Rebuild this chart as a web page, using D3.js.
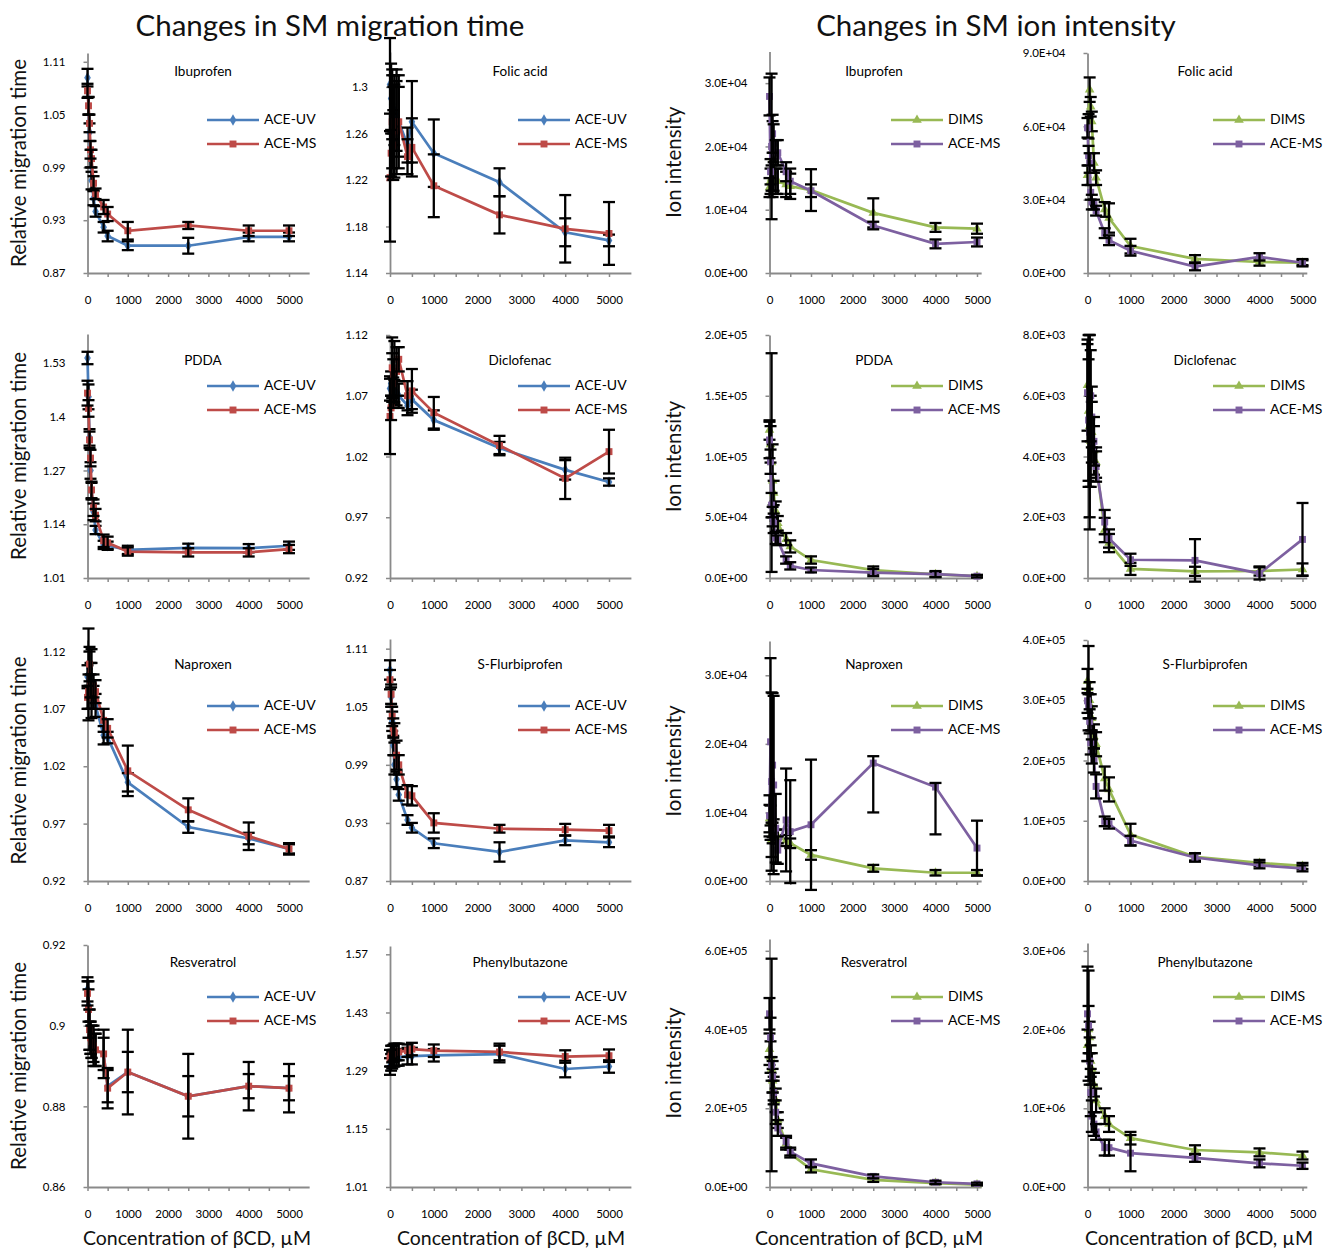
<!DOCTYPE html>
<html>
<head>
<meta charset="utf-8">
<script src="https://cdn.jsdelivr.net/npm/d3@7"></script>
<style>
  body { margin: 0; background: #fff; }
  text { font-family: Lato, 'Open Sans', sans-serif; }
</style>
</head>
<body>
<div id="root"></div>
<script>
// concentration of bCD (uM), shared by every panel
const conc = [0, 25, 50, 75, 100, 150, 200, 400, 500, 1000, 2500, 4000, 5000]
const xTicks = [0, 1000, 2000, 3000, 4000, 5000]

// --- migration time (ACE-UV / ACE-MS) ---
const ibuMigUV = [1.092, 1.06, 1.03, 1.0, 0.975, 0.955, 0.94, 0.922, 0.912, 0.901, 0.901, 0.911, 0.911]
const ibuMigUVErr = [0.01, 0.01, 0.01, 0.01, 0.01, 0.008, 0.006, 0.006, 0.006, 0.005, 0.009, 0.005, 0.005]
const ibuMigMS = [1.077, 1.06, 1.04, 1.01, 1.0, 0.972, 0.96, 0.945, 0.937, 0.918, 0.924, 0.918, 0.918]
const ibuMigMSErr = [0.008, 0.01, 0.01, 0.01, 0.01, 0.008, 0.006, 0.008, 0.008, 0.01, 0.004, 0.006, 0.006]

const folMigUV = [1.302, 1.29, 1.285, 1.28, 1.28, 1.275, 1.27, 1.25, 1.27, 1.243, 1.218, 1.175, 1.168]
const folMigUVErr = [0.04, 0.03, 0.03, 0.02, 0.03, 0.03, 0.03, 0.015, 0.035, 0.029, 0.012, 0.012, 0.005]
const folMigMS = [1.222, 1.243, 1.27, 1.25, 1.262, 1.27, 1.27, 1.24, 1.248, 1.215, 1.19, 1.178, 1.174]
const folMigMSErr = [0.055, 0.02, 0.04, 0.03, 0.04, 0.045, 0.04, 0.015, 0.025, 0.027, 0.016, 0.029, 0.027]

const pddaMigUV = [1.542, 1.448, 1.35, 1.27, 1.22, 1.17, 1.126, 1.09, 1.088, 1.078, 1.083, 1.082, 1.088]
const pddaMigUVErr = [0.015, 0.03, 0.02, 0.02, 0.02, 0.02, 0.01, 0.01, 0.01, 0.01, 0.01, 0.01, 0.01]
const pddaMigMS = [1.457, 1.42, 1.344, 1.3, 1.223, 1.18, 1.162, 1.1, 1.095, 1.074, 1.072, 1.072, 1.08]
const pddaMigMSErr = [0.03, 0.02, 0.02, 0.02, 0.02, 0.02, 0.015, 0.015, 0.015, 0.01, 0.01, 0.01, 0.01]

const dicMigUV = [1.076, 1.08, 1.085, 1.075, 1.073, 1.072, 1.07, 1.062, 1.067, 1.05, 1.027, 1.009, 0.999]
const dicMigUVErr = [0.01, 0.01, 0.02, 0.01, 0.01, 0.01, 0.01, 0.008, 0.008, 0.008, 0.005, 0.008, 0.003]
const dicMigMS = [1.053, 1.06, 1.093, 1.08, 1.09, 1.09, 1.1, 1.07, 1.074, 1.056, 1.029, 1.002, 1.024]
const dicMigMSErr = [0.031, 0.01, 0.025, 0.02, 0.025, 0.02, 0.01, 0.012, 0.018, 0.013, 0.008, 0.017, 0.018]

const napMigUV = [1.098, 1.1, 1.105, 1.1, 1.09, 1.08, 1.073, 1.047, 1.045, 1.006, 0.967, 0.957, 0.948]
const napMigUVErr = [0.01, 0.04, 0.015, 0.01, 0.02, 0.01, 0.01, 0.008, 0.005, 0.008, 0.005, 0.005, 0.004]
const napMigMS = [1.08, 1.085, 1.109, 1.09, 1.092, 1.09, 1.085, 1.06, 1.053, 1.016, 0.982, 0.959, 0.948]
const napMigMSErr = [0.01, 0.015, 0.015, 0.01, 0.03, 0.01, 0.01, 0.01, 0.008, 0.022, 0.01, 0.012, 0.005]

const flurMigUV = [1.088, 1.06, 1.035, 1.01, 0.99, 0.975, 0.959, 0.933, 0.925, 0.909, 0.9, 0.912, 0.91]
const flurMigUVErr = [0.01, 0.01, 0.01, 0.01, 0.01, 0.008, 0.006, 0.005, 0.005, 0.005, 0.01, 0.005, 0.005]
const flurMigMS = [1.078, 1.063, 1.04, 1.028, 1.023, 1.0, 0.99, 0.959, 0.958, 0.93, 0.924, 0.923, 0.922]
const flurMigMSErr = [0.01, 0.01, 0.01, 0.01, 0.01, 0.015, 0.01, 0.01, 0.01, 0.01, 0.004, 0.006, 0.006]

const resMigUV = [0.909, 0.905, 0.899, 0.897, 0.896, 0.895, 0.894, 0.893, 0.885, 0.8885, 0.8825, 0.885, 0.8845]
const resMigUVErr = [0.003, 0.004, 0.005, 0.004, 0.004, 0.004, 0.004, 0.004, 0.004, 0.005, 0.005, 0.003, 0.003]
const resMigMS = [0.908, 0.904, 0.899, 0.897, 0.896, 0.895, 0.894, 0.893, 0.8845, 0.8885, 0.8825, 0.885, 0.8845]
const resMigMSErr = [0.003, 0.007, 0.005, 0.004, 0.004, 0.005, 0.004, 0.006, 0.005, 0.0105, 0.0105, 0.006, 0.006]

const phenMigUV = [1.3, 1.31, 1.315, 1.32, 1.32, 1.322, 1.322, 1.325, 1.325, 1.327, 1.33, 1.294, 1.3]
const phenMigUVErr = [0.02, 0.02, 0.02, 0.02, 0.02, 0.02, 0.02, 0.02, 0.02, 0.015, 0.02, 0.02, 0.015]
const phenMigMS = [1.32, 1.325, 1.33, 1.332, 1.335, 1.335, 1.335, 1.338, 1.342, 1.338, 1.335, 1.324, 1.326]
const phenMigMSErr = [0.02, 0.025, 0.02, 0.02, 0.02, 0.02, 0.02, 0.015, 0.015, 0.015, 0.02, 0.015, 0.015]

// --- ion intensity (DIMS / ACE-MS) ---
const ibuIonDIMS = [13500, 14500, 15000, 18000, 16000, 14500, 14500, 14000, 13700, 13100, 9500, 7200, 7000]
const ibuIonDIMSErr = [1500, 2000, 2000, 6000, 3000, 2000, 2000, 2000, 2000, 3300, 2300, 700, 800]
const ibuIonMS = [27900, 16000, 20000, 22000, 20500, 19000, 19000, 16000, 14500, 13000, 7500, 4600, 4900]
const ibuIonMSErr = [3000, 2000, 11500, 3000, 3000, 2000, 2000, 1500, 2000, 1000, 600, 700, 700]

const folIonDIMS = [40000, 60000, 75000, 68000, 62000, 45000, 39000, 26000, 22500, 11000, 5800, 4500, 4200]
const folIonDIMSErr = [4000, 5000, 5000, 4000, 4000, 4000, 3000, 3000, 6000, 3000, 1500, 1500, 1000]
const folIonMS = [59400, 48000, 45000, 33000, 29000, 28000, 25500, 16300, 13400, 9100, 2600, 6600, 4200]
const folIonMSErr = [4000, 4000, 4000, 3000, 3000, 2000, 2000, 2000, 2000, 2000, 1500, 1500, 1500]

const pddaIonDIMS = [121800, 110000, 95000, 80000, 70000, 55000, 45000, 32000, 26000, 14800, 6500, 3000, 1500]
const pddaIonDIMSErr = [8000, 15000, 90000, 30000, 10000, 8000, 6000, 5000, 5000, 3000, 3000, 2000, 1000]
const pddaIonMS = [113600, 95700, 60000, 50500, 45000, 33000, 31000, 14800, 10000, 6600, 4500, 3200, 1500]
const pddaIonMSErr = [15000, 10000, 10000, 8000, 8000, 5000, 4000, 3000, 3000, 2000, 3000, 2500, 1000]

const dicIonDIMS = [6350, 5500, 5000, 4500, 4800, 4200, 3800, 1580, 1150, 300, 220, 230, 280]
const dicIonDIMSErr = [1500, 2500, 3000, 1500, 1000, 800, 500, 400, 300, 200, 150, 150, 200]
const dicIonMS = [6100, 5200, 4800, 6000, 5300, 4500, 3670, 1840, 1300, 600, 580, 150, 1270]
const dicIonMSErr = [1600, 2000, 3200, 1500, 1000, 800, 500, 400, 300, 200, 700, 200, 1200]

const napIonDIMS = [9100, 8500, 6000, 7000, 7500, 6500, 6500, 5900, 5500, 3800, 1850, 1200, 1200]
const napIonDIMSErr = [2000, 2500, 2500, 1500, 1500, 1000, 1000, 800, 700, 700, 500, 400, 400]
const napIonMS = [9500, 20300, 14500, 16900, 14000, 7700, 4500, 8900, 7200, 8200, 17200, 13700, 4800]
// [minus, plus] where the bar is lopsided
const napIonMSErr = [3000, 12200, 13000, 10500, 13000, 5000, 2000, 7500, 7500, 9500, [7200, 1000], [6900, 600], 4000]

const flurIonDIMS = [332000, 320000, 300000, 290000, 270000, 240000, 227000, 170000, 152000, 77000, 40000, 30000, 25000]
const flurIonDIMSErr = [20000, 70000, 30000, 20000, 20000, 20000, 20000, 20000, 20000, 18000, 6000, 5000, 5000]
const flurIonMS = [299000, 290000, 265000, 230000, 215000, 200000, 157000, 99000, 95000, 67000, 39000, 26000, 21000]
const flurIonMSErr = [20000, 20000, 20000, 20000, 20000, 20000, 20000, 8000, 8000, 8000, 7000, 5000, 5000]

const resIonDIMS = [350000, 330000, 300000, 270000, 250000, 220000, 170000, 110000, 85000, 45000, 18000, 10000, 6000]
const resIonDIMSErr = [40000, 40000, 30000, 30000, 30000, 30000, 20000, 15000, 10000, 8000, 5000, 3000, 2000]
const resIonMS = [440000, 380000, 310000, 280000, 240000, 190000, 150000, 115000, 90000, 60000, 27000, 12000, 8000]
const resIonMSErr = [40000, 50000, 270000, 40000, 30000, 30000, 20000, 15000, 10000, 10000, 5000, 4000, 3000]

const phenIonDIMS = [1800000, 2000000, 1900000, 1600000, 1500000, 1300000, 1100000, 900000, 800000, 620000, 470000, 440000, 400000]
const phenIonDIMSErr = [200000, 300000, 200000, 200000, 200000, 150000, 150000, 100000, 100000, 80000, 60000, 50000, 50000]
const phenIonMS = [2200000, 2050000, 1600000, 1200000, 900000, 800000, 700000, 500000, 500000, 430000, 370000, 300000, 270000]
const phenIonMSErr = [600000, 700000, 300000, 300000, 200000, 150000, 100000, 100000, 100000, 230000, 50000, 50000, 40000]

// layout
const width = 1328
const height = 1250
const rows = [
  { base: 273, titleY: 73, legY: 120 },
  { base: 578, titleY: 362, legY: 386 },
  { base: 881, titleY: 666, legY: 706 },
  { base: 1187, titleY: 964, legY: 997 },
]
const cols = [
  { x0: 87.5, x5000: 289, xMax: 5500, titleX: 203, legX: 207, axTitleX: 197, ion: false },
  { x0: 390, x5000: 609, xMax: 5500, titleX: 520, legX: 518, axTitleX: 511, ion: false },
  { x0: 769.5, x5000: 977, xMax: 5100, titleX: 874, legX: 891, axTitleX: 869, ion: true },
  { x0: 1087.5, x5000: 1302.5, xMax: 5100, titleX: 1205, legX: 1213, axTitleX: 1199, ion: true },
]

const styles = {
  uv: { color: '#4a7ebb', symbol: d3.symbolDiamond, size: 38, label: 'ACE-UV' },
  ms: { color: '#be4b48', symbol: d3.symbolSquare, size: 48, label: 'ACE-MS' },
  dims: { color: '#98b954', symbol: d3.symbolTriangle, size: 40, label: 'DIMS' },
  msp: { color: '#7d60a0', symbol: d3.symbolSquare, size: 48, label: 'ACE-MS' },
}

function mig(row, col, name, domain, step, top, uv, uvErr, ms, msErr) {
  return { row, col, name, domain, step, top, series: [
    { style: 'uv', values: uv, err: uvErr },
    { style: 'ms', values: ms, err: msErr },
  ] }
}
function ion(row, col, name, domain, step, top, dims, dimsErr, ms, msErr) {
  return { row, col, name, domain, step, top, series: [
    { style: 'dims', values: dims, err: dimsErr },
    { style: 'msp', values: ms, err: msErr },
  ] }
}

const panels = [
  mig(0, 0, 'Ibuprofen', [0.87, 1.12], 0.06, 53, ibuMigUV, ibuMigUVErr, ibuMigMS, ibuMigMSErr),
  mig(0, 1, 'Folic acid', [1.14, 1.33], 0.04, 52, folMigUV, folMigUVErr, folMigMS, folMigMSErr),
  ion(0, 2, 'Ibuprofen', [0, 35000], 10000, 51.5, ibuIonDIMS, ibuIonDIMSErr, ibuIonMS, ibuIonMSErr),
  ion(0, 3, 'Folic acid', [0, 90000], 30000, 53, folIonDIMS, folIonDIMSErr, folIonMS, folIonMSErr),
  mig(1, 0, 'PDDA', [1.01, 1.6], 0.13, 334, pddaMigUV, pddaMigUVErr, pddaMigMS, pddaMigMSErr),
  mig(1, 1, 'Diclofenac', [0.92, 1.12], 0.05, 335, dicMigUV, dicMigUVErr, dicMigMS, dicMigMSErr),
  ion(1, 2, 'PDDA', [0, 200000], 50000, 335, pddaIonDIMS, pddaIonDIMSErr, pddaIonMS, pddaIonMSErr),
  ion(1, 3, 'Diclofenac', [0, 8000], 2000, 335, dicIonDIMS, dicIonDIMSErr, dicIonMS, dicIonMSErr),
  mig(2, 0, 'Naproxen', [0.92, 1.13], 0.05, 640, napMigUV, napMigUVErr, napMigMS, napMigMSErr),
  mig(2, 1, 'S-Flurbiprofen', [0.87, 1.12], 0.06, 639, flurMigUV, flurMigUVErr, flurMigMS, flurMigMSErr),
  ion(2, 2, 'Naproxen', [0, 35000], 10000, 641, napIonDIMS, napIonDIMSErr, napIonMS, napIonMSErr),
  ion(2, 3, 'S-Flurbiprofen', [0, 400000], 100000, 640, flurIonDIMS, flurIonDIMSErr, flurIonMS, flurIonMSErr),
  mig(3, 0, 'Resveratrol', [0.86, 0.92], 0.02, 945, resMigUV, resMigUVErr, resMigMS, resMigMSErr),
  mig(3, 1, 'Phenylbutazone', [1.01, 1.59], 0.14, 946, phenMigUV, phenMigUVErr, phenMigMS, phenMigMSErr),
  ion(3, 2, 'Resveratrol', [0, 630000], 200000, 939, resIonDIMS, resIonDIMSErr, resIonMS, resIonMSErr),
  ion(3, 3, 'Phenylbutazone', [0, 3100000], 1000000, 943, phenIonDIMS, phenIonDIMSErr, phenIonMS, phenIonMSErr),
]

function sci(v) {
  const [m, e] = v.toExponential(1).split('e')
  const n = +e
  return m + 'E' + (n < 0 ? '-' : '+') + String(Math.abs(n)).padStart(2, '0')
}
const dec = (v) => String(+v.toFixed(2))

const svg = d3.select('#root').append('svg').attr('width', width).attr('height', height)
svg.append('rect').attr('width', width).attr('height', height).attr('fill', '#fff')

// big headings
svg.append('text').attr('x', 330).attr('y', 36).attr('text-anchor', 'middle')
  .attr('font-size', 29.5).attr('fill', '#111').text('Changes in SM migration time')
svg.append('text').attr('x', 996).attr('y', 36).attr('text-anchor', 'middle')
  .attr('font-size', 29.5).attr('fill', '#111').text('Changes in SM ion intensity')

for (const p of panels) {
  const c = cols[p.col]
  const r = rows[p.row]
  const x = d3.scaleLinear().domain([0, c.xMax])
    .range([c.x0, c.x0 + ((c.x5000 - c.x0) * c.xMax) / 5000])
  const y = d3.scaleLinear().domain(p.domain).range([r.base, p.top])
  const g = svg.append('g')

  const nTicks = Math.floor((p.domain[1] - p.domain[0]) / p.step + 1e-6)
  const yTicks = d3.range(nTicks + 1).map((i) => +(p.domain[0] + i * p.step).toFixed(6))

  const yAxis = g.append('g').attr('transform', `translate(${c.x0},0)`)
    .call(d3.axisLeft(y).tickValues(yTicks).tickSize(4).tickSizeOuter(0).tickPadding(18)
      .tickFormat(c.ion ? sci : dec))
  const minorX = d3.range(0, c.xMax, 500)
  const xAxis = g.append('g').attr('transform', `translate(0,${r.base})`)
    .call(d3.axisBottom(x).tickValues(minorX).tickSize(4).tickSizeOuter(0).tickPadding(19)
      .tickFormat((d) => (xTicks.includes(d) ? d : '')))
  for (const ax of [yAxis, xAxis]) {
    ax.select('.domain').attr('stroke', '#8a8a8a').attr('stroke-width', 1.8)
    ax.selectAll('.tick line').attr('stroke', '#8a8a8a').attr('stroke-width', 1.5)
    ax.selectAll('.tick text').attr('font-size', 11.5).attr('fill', '#000')
      .attr('font-family', 'Lato, sans-serif')
  }

  const line = d3.line().x((d) => x(d[0])).y((d) => y(d[1]))

  for (const s of p.series) {
    const st = styles[s.style]
    const pts = conc.map((cx, i) => [cx, s.values[i], s.err[i]])
    g.append('path').datum(pts).attr('d', line).attr('fill', 'none')
      .attr('stroke', st.color).attr('stroke-width', 2.7)
    g.selectAll(null).data(pts).join('path')
      .attr('transform', (d) => `translate(${x(d[0])},${y(d[1])})`)
      .attr('d', d3.symbol().type(st.symbol).size(st.size))
      .attr('fill', st.color)
    // error bars on top
    const eb = g.selectAll(null).data(pts).join('g').attr('stroke', '#000').attr('stroke-width', 2.3)
    eb.each(function (d) {
      const lo = Array.isArray(d[2]) ? d[2][0] : d[2]
      const hi = Array.isArray(d[2]) ? d[2][1] : d[2]
      const cx = x(d[0])
      const y1 = y(d[1] - lo)
      const y2 = y(d[1] + hi)
      const sel = d3.select(this)
      sel.append('line').attr('x1', cx).attr('x2', cx).attr('y1', y1).attr('y2', y2)
      sel.append('line').attr('x1', cx - 6).attr('x2', cx + 6).attr('y1', y1).attr('y2', y1)
      sel.append('line').attr('x1', cx - 6).attr('x2', cx + 6).attr('y1', y2).attr('y2', y2)
    })
  }

  // panel name
  g.append('text').attr('x', c.titleX).attr('y', r.titleY).attr('text-anchor', 'middle')
    .attr('dominant-baseline', 'middle').attr('font-size', 13.5).attr('fill', '#000').text(p.name)

  // legend
  p.series.forEach((s, i) => {
    const st = styles[s.style]
    const ly = r.legY + i * 24
    g.append('line').attr('x1', c.legX).attr('x2', c.legX + 52).attr('y1', ly).attr('y2', ly)
      .attr('stroke', st.color).attr('stroke-width', 2.7)
    g.append('path').attr('transform', `translate(${c.legX + 26},${ly})`)
      .attr('d', d3.symbol().type(st.symbol).size(st.size)).attr('fill', st.color)
    g.append('text').attr('x', c.legX + 57).attr('y', ly).attr('dominant-baseline', 'middle')
      .attr('font-size', 14).attr('fill', '#000').text(st.label)
  })

  // y axis title on the first column of each half
  if (p.col === 0 || p.col === 2) {
    const cy = (r.base + p.top) / 2
    const tx = p.col === 0 ? 21 : 676
    g.append('text').attr('transform', `translate(${tx},${cy}) rotate(-90)`)
      .attr('text-anchor', 'middle').attr('dominant-baseline', 'middle')
      .attr('font-size', 20.5).attr('fill', '#111')
      .text(p.col === 0 ? 'Relative migration time' : 'Ion intensity')
  }

  // x axis title under the last row
  if (p.row === 3) {
    g.append('text').attr('x', c.axTitleX).attr('y', 1240).attr('text-anchor', 'middle')
      .attr('dominant-baseline', 'middle').attr('font-size', 19.5).attr('fill', '#111')
      .text('Concentration of βCD, µM')
  }
}
</script>
</body>
</html>
